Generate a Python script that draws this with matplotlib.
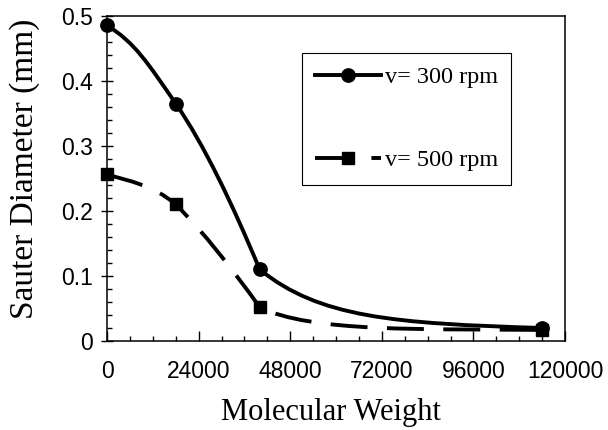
import matplotlib
matplotlib.use("Agg")
import matplotlib.pyplot as plt
from matplotlib.path import Path
from matplotlib.patches import PathPatch
from matplotlib.lines import Line2D
from matplotlib.ticker import FixedLocator, FixedFormatter, MultipleLocator

# values
mol_weight = [0, 18000, 40000, 114000]
d32_300rpm = [0.485, 0.365, 0.110, 0.020]
d32_500rpm = [0.256, 0.210, 0.052, 0.017]
series_labels = ["v= 300 rpm", "v= 500 rpm"]

x_ticks = [0, 24000, 48000, 72000, 96000, 120000]
x_tick_labels = ["0", "24000", "48000", "72000", "96000", "120000"]
y_ticks = [0, 0.1, 0.2, 0.3, 0.4, 0.5]
y_tick_labels = ["0", "0.1", "0.2", "0.3", "0.4", "0.5"]
x_label = "Molecular Weight"
y_label = "Sauter Diameter (mm)"

# smoothing style of the drawn curves: screen slopes (px/px) leaving / entering
# each point and bezier handle fractions per segment
shape_300 = dict(slope_out=[-0.6, -1.45, -0.81], slope_in=[-1.45, -2.4, -0.03],
                 handles=[(0.4, 0.4), (1 / 3, 1 / 3), (0.21, 0.53)])
shape_500 = dict(slope_out=[-0.3, -1.0, -0.5], slope_in=[-0.85, -1.4, -0.01],
                 handles=[(1 / 3, 1 / 3), (1 / 3, 1 / 3), (0.18, 0.42)])

LW = 2.8
DASH = (0, (9.5, 5))
SERIF = "Liberation Serif"
SANS = "Liberation Sans"


def smooth_path(x, y, shape, k):
    """Cubic bezier through the points; k converts screen slope to data slope."""
    verts = [(x[0], y[0])]
    codes = [Path.MOVETO]
    for i in range(len(x) - 1):
        h = x[i + 1] - x[i]
        a, b = shape["handles"][i]
        m0 = shape["slope_out"][i] * k
        m1 = shape["slope_in"][i] * k
        verts += [
            (x[i] + a * h, y[i] + a * h * m0),
            (x[i + 1] - b * h, y[i + 1] - b * h * m1),
            (x[i + 1], y[i + 1]),
        ]
        codes += [Path.CURVE4] * 3
    return Path(verts, codes)


fig = plt.figure(figsize=(6.08, 4.30), dpi=100)
fig.subplots_adjust(left=107 / 608, right=565 / 608, bottom=89 / 430, top=414.3 / 430)
ax = fig.add_subplot(111)

ax.set_xlim(0, 120000)
ax.set_ylim(0, 0.5)

# screen px -> data slope factor
bb = ax.get_window_extent()
k = (0.5 / bb.height) / (120000 / bb.width)

ax.add_patch(PathPatch(smooth_path(mol_weight, d32_300rpm, shape_300, k),
                       fill=False, edgecolor="black", lw=LW, capstyle="butt", zorder=2))
ax.add_patch(PathPatch(smooth_path(mol_weight, d32_500rpm, shape_500, k),
                       fill=False, edgecolor="black", lw=LW, linestyle=DASH,
                       capstyle="butt", zorder=2))

ax.plot(mol_weight, d32_300rpm, "o", color="black", ms=9.6, clip_on=False, zorder=3)
ax.plot(mol_weight, d32_500rpm, "s", color="black", ms=8, clip_on=False, zorder=3)

# ticks
ax.xaxis.set_major_locator(FixedLocator(x_ticks))
ax.xaxis.set_major_formatter(FixedFormatter(x_tick_labels))
ax.xaxis.set_minor_locator(MultipleLocator(6000))
ax.yaxis.set_major_locator(FixedLocator(y_ticks))
ax.yaxis.set_major_formatter(FixedFormatter(y_tick_labels))
ax.yaxis.set_minor_locator(MultipleLocator(0.02))

ax.tick_params(axis="x", which="major", direction="in", length=7, width=1, pad=14)
ax.tick_params(axis="x", which="minor", direction="in", length=3.5, width=1)
ax.tick_params(axis="y", which="major", direction="inout", length=8, width=1, pad=6)
ax.tick_params(axis="y", which="minor", direction="in", length=3.5, width=1)
ax.tick_params(top=False, right=False)
for lab in ax.get_xticklabels() + ax.get_yticklabels():
    lab.set_fontfamily(SANS)
    lab.set_fontsize(16.5)

for sp in ax.spines.values():
    sp.set_linewidth(1.1)

ax.set_xlabel(x_label, fontfamily=SERIF, fontsize=22)
ax.set_ylabel(y_label, fontfamily=SERIF, fontsize=24)
ax.xaxis.set_label_coords(0.49, -0.175)
ax.yaxis.set_label_coords(-0.146, 0.53)

handles = [
    Line2D([], [], color="black", lw=LW, marker="o", ms=9.6),
    Line2D([], [], color="black", lw=LW, ls=DASH, marker="s", ms=8),
]
leg = ax.legend(handles, series_labels, loc="upper left", bbox_to_anchor=(0.426, 0.885),
                borderaxespad=0, borderpad=0.55, labelspacing=2.5, handlelength=2.7,
                handletextpad=0.15, fancybox=False, framealpha=1, edgecolor="black",
                prop={"family": SERIF, "size": 17.5})
leg.get_frame().set_linewidth(0.8)

fig.savefig("out.png", dpi=100)
plt.close(fig)
